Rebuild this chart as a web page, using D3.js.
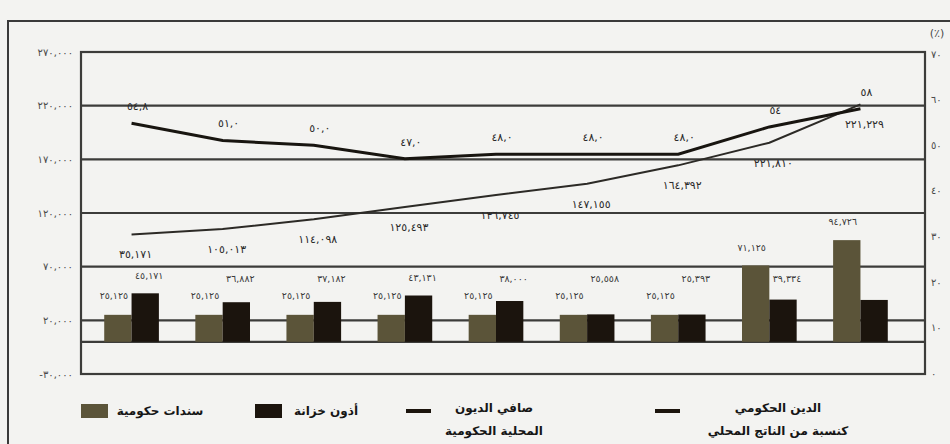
<!DOCTYPE html>
<html lang="ar">
<head>
<meta charset="utf-8">
<script src="https://cdn.jsdelivr.net/npm/d3@7"></script>
<style>
  html, body { margin: 0; padding: 0; background: #f3f3f1; }
  svg { display: block; font-family: "DejaVu Sans", sans-serif; }
</style>
</head>
<body>
<div id="chart"></div>
<script>
// Government domestic debt: bonds / bills bars + two lines

const periods = ["p1", "p2", "p3", "p4", "p5", "p6", "p7", "p8", "p9"];
const bonds = [25125, 25125, 25125, 25125, 25125, 25125, 25125, 71125, 94726];
const bills = [45171, 36882, 37182, 43131, 38000, 25558, 25393, 39334, 39000];
const billsShown = [true, true, true, true, true, true, true, true, false];
// net domestic debt: values follow the drawn line, labels as printed
const netDebt = [100000, 105013, 114098, 125493, 136745, 147155, 164392, 185500, 221229];
const netDebtLabels = ["٣٥,١٧١", "١٠٥,٠١٣", "١١٤,٠٩٨", "١٢٥,٤٩٣", "١٣٦,٧٤٥", "١٤٧,١٥٥", "١٦٤,٣٩٢", "٢٢١,٨١٠", "٢٢١,٢٢٩"];
const debtToGdp = [54.8, 51.0, 50.0, 47.0, 48.0, 48.0, 48.0, 54, 58];
const debtToGdpDigits = [1, 1, 1, 1, 1, 1, 1, 0, 0];
const leftTicks = [270000, 220000, 170000, 120000, 70000, 20000, -30000];
const rightTicks = [70, 60, 50, 40, 30, 20, 10, 0];

const width = 950;
const height = 444;
const plot = { left: 81, right: 925, top: 52, bottom: 374 };

const colBonds = "#5b5439";
const colBills = "#1b140d";
const colGrid = "#3c3c3a";
const colText = "#3a3a3a";

const arabicLocale = d3.formatLocale({
    decimal: ",",
    thousands: ",",
    grouping: [3],
    currency: ["", ""],
    numerals: ["٠", "١", "٢", "٣", "٤", "٥", "٦", "٧", "٨", "٩"],
    minus: "-"
});
const fmtInt = arabicLocale.format(",d");
const fmtPct = (v, i) => arabicLocale.format("." + debtToGdpDigits[i] + "f")(v);

const svg = d3.select("#chart")
    .append("svg")
    .attr("width", width)
    .attr("height", height);

// outer frame (left and top edges)
svg.append("path")
    .attr("d", `M8,${height} V21 H${width}`)
    .attr("fill", "none")
    .attr("stroke", "#3a3a3a")
    .attr("stroke-width", 2);

const yLeft = d3.scaleLinear().domain([-30000, 270000]).range([plot.bottom, plot.top]);
const yRight = d3.scaleLinear().domain([0, 70]).range([373, 54]);

const x = d3.scaleBand()
    .domain(periods)
    .range([86, 906])
    .paddingInner(0.4)
    .paddingOuter(0.2);

const xSub = d3.scaleBand()
    .domain(["bonds", "bills"])
    .range([0, x.bandwidth()]);

const cx = p => x(p) + x.bandwidth() / 2;

// gridlines
const gridValues = leftTicks.slice(1, -1).concat([0]);
svg.append("g")
    .selectAll("line")
    .data(gridValues)
    .join("line")
    .attr("x1", plot.left)
    .attr("x2", plot.right)
    .attr("y1", d => yLeft(d))
    .attr("y2", d => yLeft(d))
    .attr("stroke", colGrid)
    .attr("stroke-width", 2.2);

// bars
const groups = svg.append("g")
    .selectAll("g")
    .data(periods)
    .join("g")
    .attr("transform", d => `translate(${x(d)},0)`);

groups.append("rect")
    .attr("x", xSub("bonds"))
    .attr("width", xSub.bandwidth())
    .attr("y", (d, i) => yLeft(bonds[i]))
    .attr("height", (d, i) => yLeft(0) - yLeft(bonds[i]))
    .attr("fill", colBonds);

groups.append("rect")
    .attr("x", xSub("bills"))
    .attr("width", xSub.bandwidth())
    .attr("y", (d, i) => yLeft(bills[i]))
    .attr("height", (d, i) => yLeft(0) - yLeft(bills[i]))
    .attr("fill", colBills);

// bar labels
groups.append("text")
    .attr("x", xSub("bonds") + xSub.bandwidth() / 2 - 4)
    .attr("y", (d, i) => Math.min(296, yLeft(bonds[i]) - 18))
    .attr("dy", "0.35em")
    .attr("text-anchor", "middle")
    .style("font-size", "9.5px")
    .attr("fill", colText)
    .text((d, i) => fmtInt(bonds[i]));

groups.filter((d, i) => billsShown[i])
    .append("text")
    .attr("x", xSub("bills") + xSub.bandwidth() / 2 + 4)
    .attr("y", d => Math.min(279, yLeft(bills[periods.indexOf(d)]) - 18))
    .attr("dy", "0.35em")
    .attr("text-anchor", "middle")
    .style("font-size", "9.5px")
    .attr("fill", colText)
    .text(d => fmtInt(bills[periods.indexOf(d)]));

// frame
svg.append("rect")
    .attr("x", plot.left)
    .attr("y", plot.top)
    .attr("width", plot.right - plot.left)
    .attr("height", plot.bottom - plot.top)
    .attr("fill", "none")
    .attr("stroke", colGrid)
    .attr("stroke-width", 2.2);

// net debt line (left axis)
const netLine = d3.line()
    .x((d, i) => cx(periods[i]))
    .y(d => yLeft(d));

svg.append("path")
    .datum(netDebt)
    .attr("d", netLine)
    .attr("fill", "none")
    .attr("stroke", "#2c2a26")
    .attr("stroke-width", 2);

svg.append("g")
    .selectAll("text")
    .data(netDebt)
    .join("text")
    .attr("x", (d, i) => cx(periods[i]) + 4)
    .attr("y", d => yLeft(d) + 20)
    .attr("dy", "0.35em")
    .attr("text-anchor", "middle")
    .style("font-size", "11px")
    .attr("fill", "#2a2a2a")
    .text((d, i) => netDebtLabels[i]);

// debt to GDP line (right axis)
const pctLine = d3.line()
    .x((d, i) => cx(periods[i]))
    .y(d => yRight(d));

svg.append("path")
    .datum(debtToGdp)
    .attr("d", pctLine)
    .attr("fill", "none")
    .attr("stroke", "#181510")
    .attr("stroke-width", 3);

svg.append("g")
    .selectAll("text")
    .data(debtToGdp)
    .join("text")
    .attr("x", (d, i) => cx(periods[i]) + 6)
    .attr("y", d => yRight(d) - 17)
    .attr("dy", "0.35em")
    .attr("text-anchor", "middle")
    .style("font-size", "11px")
    .attr("fill", "#2a2a2a")
    .text((d, i) => fmtPct(d, i));

// axes
const leftAxis = svg.append("g")
    .attr("transform", `translate(${plot.left},0)`)
    .call(d3.axisLeft(yLeft).tickValues(leftTicks).tickSize(0).tickPadding(8).tickFormat(fmtInt));
leftAxis.select(".domain").remove();
leftAxis.selectAll("text")
    .style("font-size", "10px")
    .style("font-family", "DejaVu Sans, sans-serif")
    .attr("fill", "#4a4a4a");

const rightAxis = svg.append("g")
    .attr("transform", `translate(${plot.right},0)`)
    .call(d3.axisRight(yRight).tickValues(rightTicks).tickSize(0).tickPadding(6).tickFormat(arabicLocale.format("d")));
rightAxis.select(".domain").remove();
rightAxis.selectAll("text")
    .style("font-size", "10px")
    .style("font-family", "DejaVu Sans, sans-serif")
    .attr("fill", "#4a4a4a");

svg.append("text")
    .attr("x", 937)
    .attr("y", 37)
    .attr("text-anchor", "middle")
    .style("font-size", "11px")
    .attr("fill", "#4a4a4a")
    .text("(٪)");

// legend
const legendItems = [
    { type: "box", color: colBonds, x: 81, lines: ["سندات حكومية"], tx: 160 },
    { type: "box", color: colBills, x: 255, lines: ["أذون خزانة"], tx: 326 },
    { type: "dash", color: "#1b140d", x: 406, lines: ["صافي الديون", "المحلية الحكومية"], tx: 494 },
    { type: "dash", color: "#1b140d", x: 655, lines: ["الدين الحكومي", "كنسبة من الناتج المحلي"], tx: 778 }
];

const legend = svg.append("g");
legendItems.forEach(item => {
    if (item.type === "box") {
        legend.append("rect")
            .attr("x", item.x)
            .attr("y", 404)
            .attr("width", 27)
            .attr("height", 14)
            .attr("fill", item.color);
    } else {
        legend.append("rect")
            .attr("x", item.x)
            .attr("y", 409)
            .attr("width", 25)
            .attr("height", 4)
            .attr("fill", item.color);
    }
    item.lines.forEach((line, j) => {
        legend.append("text")
            .attr("x", item.tx)
            .attr("y", item.lines.length === 1 ? 415 : 412 + j * 23)
            .attr("text-anchor", "middle")
            .style("font-size", "12px")
            .style("font-weight", "bold")
            .attr("fill", "#161616")
            .text(line);
    });
});
</script>
</body>
</html>
